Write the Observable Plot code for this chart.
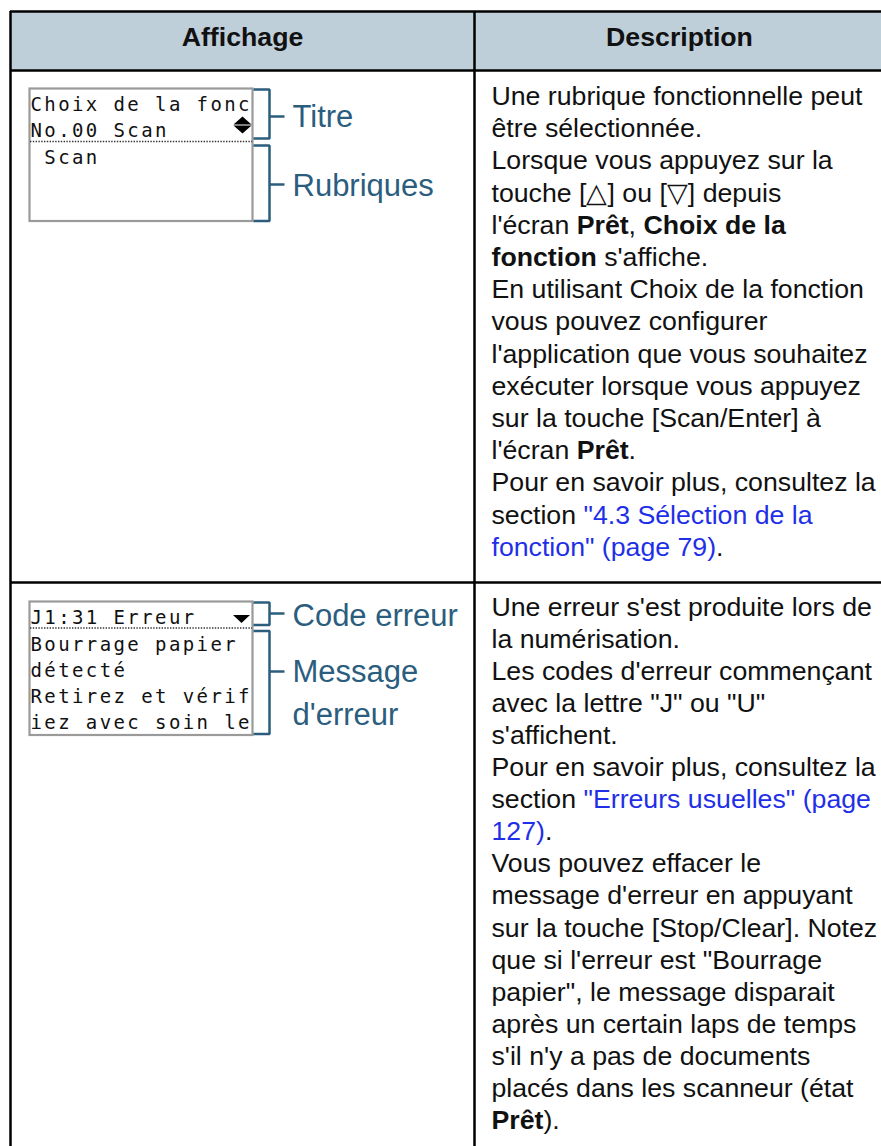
<!DOCTYPE html>
<html><head><meta charset="utf-8">
<script src="https://cdn.jsdelivr.net/npm/d3@7"></script>
<script src="https://cdn.jsdelivr.net/npm/@observablehq/plot@0.6"></script>
<style>
html,body{margin:0;padding:0;background:#fff;overflow:hidden;}
g[font-family="DejaVu Sans Mono"] text{white-space:pre;letter-spacing:2.4px;}
</style></head><body><div id="chart"></div>
<script>
// ---------- content ----------
const headers = ["Affichage", "Description"];
const lcd1Lines = ["Choix de la fonc", "No.00 Scan", " Scan"];
const lcd2Lines = ["J1:31 Erreur", "Bourrage papier", "détecté", "Retirez et vérif", "iez avec soin le"];
const callouts1 = ["Titre", "Rubriques"];
const callouts2 = ["Code erreur", "Message\nd'erreur"];
// **bold**, {link}
const desc1 = [
  "Une rubrique fonctionnelle peut",
  "être sélectionnée.",
  "Lorsque vous appuyez sur la",
  "touche [△] ou [▽] depuis",
  "l'écran **Prêt**, **Choix de la**",
  "**fonction** s'affiche.",
  "En utilisant Choix de la fonction",
  "vous pouvez configurer",
  "l'application que vous souhaitez",
  "exécuter lorsque vous appuyez",
  "sur la touche [Scan/Enter] à",
  "l'écran **Prêt**.",
  "Pour en savoir plus, consultez la",
  "section {\"4.3 Sélection de la}",
  "{fonction\" (page 79)}."
];
const desc2 = [
  "Une erreur s'est produite lors de",
  "la numérisation.",
  "Les codes d'erreur commençant",
  "avec la lettre \"J\" ou \"U\"",
  "s'affichent.",
  "Pour en savoir plus, consultez la",
  "section {\"Erreurs usuelles\" (page}",
  "{127)}.",
  "Vous pouvez effacer le",
  "message d'erreur en appuyant",
  "sur la touche [Stop/Clear]. Notez",
  "que si l'erreur est \"Bourrage",
  "papier\", le message disparait",
  "après un certain laps de temps",
  "s'il n'y a pas de documents",
  "placés dans les scanneur (état",
  "**Prêt**)."
];

// ---------- layout (geometry only) ----------
const W = 881, H = 1146;
const L = {
  left: 10, mid: 474, right: 884, top: 11, headBottom: 70, rowDiv: 582, bottom: 1146,
  headY: 45, descX: 491, desc1Y: 104.5, step1: 32.2, desc2Y: 615.5, step2: 32.05, fs: 26.7,
  lcdX1: 29.5, lcdX2: 252.5, lcd1: [88.5, 221], lcd2: [601.5, 735],
  dot1: 141, dot2: 627.5, lcdTextX: 30, lcd1Y: [110, 136.5, 163], lcd2Y: [623, 650, 676, 702, 728.5],
  brL: 253, brV: 269, brT: 284,
  br1: [[89, 138, 116], [145, 220.5, 184]], br2: [[602, 624.5, 613], [630.5, 733.5, 671]],
  calX: 292, cal1Y: [126.5, 195], cal2Y: [625, 724.5]
};
const C = {head: "#bfcfd9", border: "#000", lcd: "#9a9a9a", call: "#2b5d7e", link: "#1f2fe8", text: "#111"};
const FONT = "Liberation Sans, Arial, sans-serif";

// ---------- build runs ----------
const ctx = document.createElement("canvas").getContext("2d");
function meas(t, bold) { ctx.font = `${bold ? "bold " : ""}${L.fs}px "Liberation Sans", Arial, sans-serif`; return ctx.measureText(t).width; }
function runsFor(lines, y0, step) {
  const out = [];
  lines.forEach((line, i) => {
    const parts = line.split(/(\*\*[^*]+\*\*|\{[^}]+\})/).filter(s => s.length);
    let x = L.descX;
    for (const p of parts) {
      let kind = "n", t = p;
      if (p.startsWith("**")) { kind = "b"; t = p.slice(2, -2); }
      else if (p.startsWith("{")) { kind = "l"; t = p.slice(1, -1); }
      const lead = t.length - t.trimStart().length;
      const lx = x + (lead ? meas(t.slice(0, lead), kind === "b") : 0);
      out.push({x: lx, y: y0 + i * step, text: t.trimStart(), kind});
      x += meas(t, kind === "b");
    }
  });
  return out;
}
const runs = [...runsFor(desc1, L.desc1Y, L.step1), ...runsFor(desc2, L.desc2Y, L.step2)];

const lcdText = [
  ...lcd1Lines.map((t, i) => ({x: L.lcdTextX, y: L.lcd1Y[i], text: t})),
  ...lcd2Lines.map((t, i) => ({x: L.lcdTextX, y: L.lcd2Y[i], text: t}))
];
const lcdBoxes = [L.lcd1, L.lcd2].map(([a, b]) => ({x1: L.lcdX1, x2: L.lcdX2, y1: a, y2: b}));
const dots = [L.dot1, L.dot2].map(y => ({y, x1: L.lcdX1 + 0.5, x2: L.lcdX2 - 0.5}));

const tri = [
  {id: "u1", pts: [[233.5, 124.5, 124.5], [242.5, 124.5, 116.5], [251.5, 124.5, 124.5]]},
  {id: "d1", pts: [[233.5, 125.5, 125.5], [242.5, 125.5, 133.5], [251.5, 125.5, 125.5]]},
  {id: "d2", pts: [[233, 615, 615], [241.5, 615, 623], [250, 615, 615]]}
].flatMap(t => t.pts.map(([x, y1, y2]) => ({id: t.id, x, y1, y2})));

const brackets = [...L.br1, ...L.br2].flatMap(([t, b, m], k) => [
  {id: "b" + k, x: L.brL, y: t}, {id: "b" + k, x: L.brV, y: t}, {id: "b" + k, x: L.brV, y: b}, {id: "b" + k, x: L.brL, y: b},
  {id: "t" + k, x: L.brV, y: m}, {id: "t" + k, x: L.brT, y: m}
]);
const callouts = [
  ...callouts1.map((t, i) => ({x: L.calX, y: L.cal1Y[i], text: t})),
  ...callouts2.map((t, i) => ({x: L.calX, y: L.cal2Y[i], text: t}))
];
const headerText = headers.map((t, i) => ({x: i === 0 ? (L.left + L.mid) / 2 : (L.mid + L.right) / 2, y: L.headY, text: t}));

const chart = Plot.plot({
  width: W, height: H, margin: 0,
  x: {domain: [0, W], range: [0, W], axis: null},
  y: {domain: [0, H], range: [0, H], axis: null},
  style: {background: "#fff", overflow: "hidden"},
  marks: [
    Plot.rect([{x1: L.left, x2: L.right, y1: L.top, y2: L.headBottom}], {x1: "x1", x2: "x2", y1: "y1", y2: "y2", fill: C.head, inset: 0}),
    Plot.rect(lcdBoxes, {x1: "x1", x2: "x2", y1: "y1", y2: "y2", fill: "#fff", stroke: C.lcd, strokeWidth: 2.2, inset: 0}),
    Plot.ruleY(dots, {y: "y", x1: "x1", x2: "x2", stroke: "#333", strokeWidth: 1.4, strokeDasharray: "1.4 1.4"}),
    Plot.ruleY([L.top, L.headBottom, L.rowDiv], {x1: L.left, x2: L.right, stroke: C.border, strokeWidth: 2.5}),
    Plot.ruleX([L.left, L.mid], {y1: L.top, y2: L.bottom, stroke: C.border, strokeWidth: 2.5}),
    Plot.areaY(tri, {x: "x", y1: "y1", y2: "y2", z: "id", fill: "#000", curve: "linear"}),
    Plot.line(brackets, {x: "x", y: "y", z: "id", stroke: C.call, strokeWidth: 2.5, curve: "linear", strokeLinejoin: "miter", strokeLinecap: "butt"}),
    Plot.text(lcdText, {x: "x", y: "y", text: "text", textAnchor: "start", lineAnchor: "bottom", fontFamily: "DejaVu Sans Mono", fontSize: 19, fill: C.text}),
    Plot.text(callouts, {x: "x", y: "y", text: "text", textAnchor: "start", lineAnchor: "bottom", fontFamily: FONT, fontSize: 31, lineHeight: 1.4, fill: C.call}),
    Plot.text(headerText, {x: "x", y: "y", text: "text", textAnchor: "middle", lineAnchor: "bottom", fontFamily: FONT, fontSize: L.fs, fontWeight: "bold", fill: C.text}),
    Plot.text(runs.filter(r => r.kind === "n"), {x: "x", y: "y", text: "text", textAnchor: "start", lineAnchor: "bottom", fontFamily: FONT, fontSize: L.fs, fill: C.text}),
    Plot.text(runs.filter(r => r.kind === "b"), {x: "x", y: "y", text: "text", textAnchor: "start", lineAnchor: "bottom", fontFamily: FONT, fontSize: L.fs, fontWeight: "bold", fill: C.text}),
    Plot.text(runs.filter(r => r.kind === "l"), {x: "x", y: "y", text: "text", textAnchor: "start", lineAnchor: "bottom", fontFamily: FONT, fontSize: L.fs, fill: C.link})
  ]
});
document.getElementById("chart").appendChild(chart);
</script></body></html>
